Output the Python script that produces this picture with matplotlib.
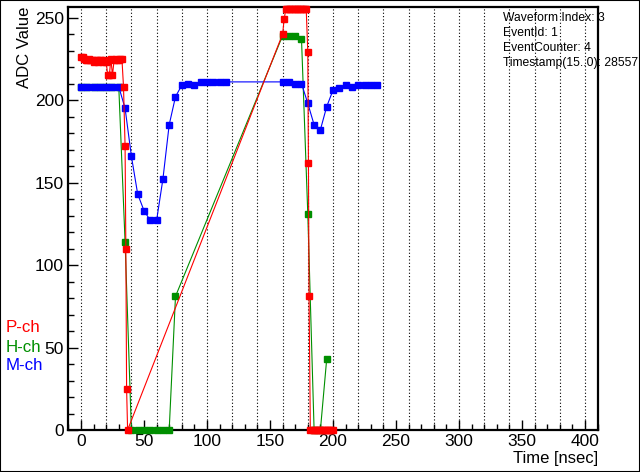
import matplotlib.pyplot as plt
from matplotlib.patches import Rectangle
from matplotlib.ticker import MultipleLocator

# P-ch (red) waveform, 1.25 ns sampling with a jump in time
p_time = [0, 1.25, 2.5, 3.75, 5, 6.25, 7.5, 8.75, 10, 11.25, 12.5, 13.75, 15, 16.25,
          17.5, 18.75, 20, 21.25, 22.5, 23.75, 25, 26.25, 27.5, 28.75, 30, 31.25, 32.5,
          33.75, 35, 35.6, 36.2, 37,
          160, 161.25, 162.5, 163.75, 165, 166.25, 167.5, 168.75, 170, 171.25, 172.5,
          173.75, 175, 176.25, 177.5, 178.75, 180, 180.5, 181, 182, 183.75, 185, 186.25,
          187.5, 188.75, 190, 191.25, 192.5, 193.75, 195, 196.25, 197.5, 198.75, 200]
p_adc = [226, 226, 225, 224, 224, 225, 224, 224, 223, 224, 224, 223, 224, 224,
         223, 224, 223, 215, 215, 225, 215, 224, 225, 224, 224, 225, 225,
         208, 172, 110, 25, 0,
         240, 249, 255, 255, 255, 255, 255, 255, 255, 255, 255,
         255, 255, 255, 255, 255, 229, 162, 81, 0, 0, 0, 0,
         0, 0, 0, 0, 0, 0, 0, 0, 0, 0, 0]

# H-ch (green) waveform
h_time = [0, 5, 10, 15, 20, 25, 30, 35, 40, 45, 50, 55, 60, 65, 70, 75,
          160, 165, 170, 175, 180, 185, 190, 195]
h_adc = [208, 208, 208, 208, 208, 208, 208, 114, 0, 0, 0, 0, 0, 0, 0, 81,
         239, 239, 239, 237, 131, 0, 0, 43]

# M-ch (blue) waveform
m_time = [0, 5, 10, 15, 20, 25, 30, 35, 40, 45, 50, 55, 60, 65, 70, 75, 80, 85,
          90, 95, 100, 105, 110, 115,
          160, 165, 170, 175, 180, 185, 190, 195, 200, 205, 210, 215, 220, 225, 230, 235]
m_adc = [208, 208, 208, 208, 208, 208, 208, 195, 166, 143, 133, 127, 127, 152, 185, 202, 209, 210,
         209, 211, 211, 211, 211, 211,
         211, 211, 210, 210, 198, 185, 182, 196, 206, 207, 209, 208, 209, 209, 209, 209]

info_lines = ["Waveform Index: 3", "EventId: 1", "EventCounter: 4", "Timestamp(15..0): 28557"]

plt.rcParams['font.family'] = ['Liberation Sans', 'DejaVu Sans']

fig = plt.figure(figsize=(6.4, 4.72), dpi=100)
ax = fig.add_axes([68 / 640, 1 - 430 / 472, 530 / 640, 423 / 472])

green = '#008f00'

# dotted vertical grid every 20 ns
for gx in range(0, 401, 20):
    ax.axvline(gx, color='black', ls=(0, (1, 2)), lw=0.8, zorder=1)

ax.plot(h_time, h_adc, '-s', color=green, lw=0.8, ms=4.5, clip_on=False, zorder=3)
ax.plot(m_time, m_adc, '-s', color='blue', lw=0.8, ms=4.5, clip_on=False, zorder=4)
ax.plot(p_time, p_adc, '-s', color='red', lw=0.8, ms=4.5, clip_on=False, zorder=5)

ax.set_xlim(-10.3, 410.3)
ax.set_ylim(0, 256.4)

ax.xaxis.set_major_locator(MultipleLocator(50))
ax.xaxis.set_minor_locator(MultipleLocator(10))
ax.yaxis.set_major_locator(MultipleLocator(50))
ax.yaxis.set_minor_locator(MultipleLocator(10))
ax.tick_params(which='both', direction='in', top=False, right=False, labelsize=12.5, pad=3)
ax.tick_params(which='major', length=7, width=1)
ax.tick_params(which='minor', length=4, width=1)
for sp in ax.spines.values():
    sp.set_linewidth(1.6)

ax.set_xlabel('Time [nsec]', fontsize=12, loc='right', labelpad=1)
ax.set_ylabel('ADC Value', fontsize=12, loc='top', labelpad=2)

# info text at top right
for i, line in enumerate(info_lines):
    fig.text(503 / 640, 1 - (18 + 15 * i) / 472, line, fontsize=8.7, va='center', ha='left')

# channel legend on the left
fig.text(6 / 640, 1 - 328 / 472, 'P-ch', color='red', fontsize=12.2, va='center')
fig.text(6 / 640, 1 - 347 / 472, 'H-ch', color=green, fontsize=12.2, va='center')
fig.text(6 / 640, 1 - 366 / 472, 'M-ch', color='blue', fontsize=12.2, va='center')

# frame around the whole canvas
fig.patches.append(Rectangle((0, 0), 1, 1, transform=fig.transFigure, fill=False,
                             edgecolor='black', lw=1.5))

fig.savefig('out.png', dpi=100)
